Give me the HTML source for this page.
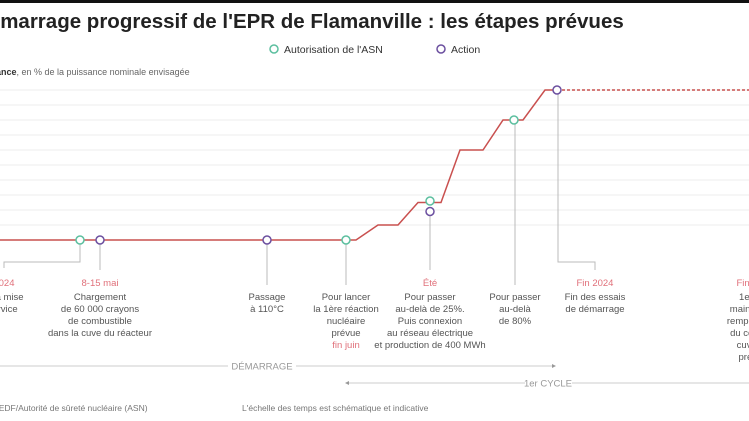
<!DOCTYPE html>
<html><head><meta charset="utf-8"><style>
body{margin:0;background:#fff;}
svg{display:block;font-family:"Liberation Sans",sans-serif;}
.a{font-size:9.5px;fill:#555;text-anchor:middle;}
.d{font-size:9.5px;fill:#e0707a;text-anchor:middle;}
</style></head><body>
<svg width="749" height="421" viewBox="0 0 749 421">
<rect x="0" y="0" width="749" height="3" fill="#111"/>
<text x="-26" y="28" font-size="20.5" font-weight="bold" fill="#222">Démarrage progressif de l'EPR de Flamanville : les étapes prévues</text>
<g>
<circle cx="274" cy="49" r="4" fill="#fff" stroke="#5cbf9f" stroke-width="1.5"/>
<text x="284" y="53" font-size="10.5" fill="#333">Autorisation de l'ASN</text>
<circle cx="441" cy="49" r="4" fill="#fff" stroke="#6b4f9f" stroke-width="1.5"/>
<text x="451" y="53" font-size="10.5" fill="#333">Action</text>
</g>
<text x="-4" y="75" font-size="9" fill="#666"><tspan font-weight="bold" fill="#333">ance</tspan>, en % de la puissance nominale envisagée</text>
<g id="grid"></g>
<g id="conn">
<path d="M80 244V262H4V268" fill="none" stroke="#bbb" stroke-width="1"/>
<path d="M100 244V270" fill="none" stroke="#bbb" stroke-width="1"/>
<path d="M267 244V285" fill="none" stroke="#bbb" stroke-width="1"/>
<path d="M346 244V285" fill="none" stroke="#bbb" stroke-width="1"/>
<path d="M430 215V270" fill="none" stroke="#bbb" stroke-width="1"/>
<path d="M515 123V285" fill="none" stroke="#bbb" stroke-width="1"/>
<path d="M558 93V262H595V270" fill="none" stroke="#bbb" stroke-width="1"/>
</g>
<g id="series"></g>
<g id="marks"></g>
<g>
<text class="d" x="-4" y="286">Fin 2024</text>
<text class="a" x="-6" y="300">Fin de la mise</text><text class="a" x="-4" y="312">en service</text>
<text class="d" x="100" y="286">8-15 mai</text>
<text class="a" x="100" y="300">Chargement</text><text class="a" x="100" y="312">de 60 000 crayons</text><text class="a" x="100" y="324">de combustible</text><text class="a" x="100" y="336">dans la cuve du réacteur</text>
<text class="a" x="267" y="300">Passage</text><text class="a" x="267" y="312">à 110°C</text>
<text class="a" x="346" y="300">Pour lancer</text><text class="a" x="346" y="312">la 1ère réaction</text><text class="a" x="346" y="324">nucléaire</text><text class="a" x="346" y="336">prévue</text><text class="d" x="346" y="348">fin juin</text>
<text class="d" x="430" y="286">Été</text>
<text class="a" x="430" y="300">Pour passer</text><text class="a" x="430" y="312">au-delà de 25%.</text><text class="a" x="430" y="324">Puis connexion</text><text class="a" x="430" y="336">au réseau électrique</text><text class="a" x="430" y="348">et production de 400 MWh</text>
<text class="a" x="515" y="300">Pour passer</text><text class="a" x="515" y="312">au-delà</text><text class="a" x="515" y="324">de 80%</text>
<text class="d" x="595" y="286">Fin 2024</text>
<text class="a" x="595" y="300">Fin des essais</text><text class="a" x="595" y="312">de démarrage</text>
<text class="d" x="755" y="286">Fin 2025</text>
<text class="a" x="757" y="300">1er arrêt</text><text class="a" x="757" y="312">maintenance</text><text class="a" x="757" y="324">remplacement</text><text class="a" x="757" y="336">du couvercle</text><text class="a" x="757" y="348">cuve déjà</text><text class="a" x="757" y="360">prévu en</text>
</g>
<g>
<line x1="0" y1="366" x2="228" y2="366" stroke="#ccc"/><line x1="296" y1="366" x2="553" y2="366" stroke="#ccc"/>
<path d="M556 366l-4 -2v4z" fill="#999"/>
<text x="262" y="369.5" font-size="9.5" fill="#999" text-anchor="middle">DÉMARRAGE</text>
</g>
<g>
<line x1="348" y1="383" x2="525" y2="383" stroke="#ccc"/><line x1="572" y1="383" x2="749" y2="383" stroke="#ccc"/>
<path d="M345 383l4 -2v4z" fill="#999"/>
<text x="548" y="386.5" font-size="9.5" fill="#999" text-anchor="middle">1er CYCLE</text>
</g>
<text x="-6" y="411" font-size="8.5" fill="#777">: EDF/Autorité de sûreté nucléaire (ASN)</text>
<text x="242" y="411" font-size="8.5" fill="#777">L'échelle des temps est schématique et indicative</text>
</svg>
<script>
const pctTicks=[0,10,20,30,40,50,60,70,80,90,100];
const stepX=[0,356,378,398,418,441,460,483,503,523,545,557];
const stepPct=[0,0,10,10,25,25,60,60,80,80,100,100];
const asnX=[80,346,430,514];
const asnPct=[0,0,26,80];
const actionX=[100,267,430,557];
const actionPct=[0,0,19,100];
const dashEndX=749;
const y=p=>240-p*1.5;
const NS="http://www.w3.org/2000/svg";
const grid=document.getElementById('grid');
pctTicks.forEach(t=>{if(t===0)return;const l=document.createElementNS(NS,'line');
l.setAttribute('x1',0);l.setAttribute('x2',749);l.setAttribute('y1',y(t));l.setAttribute('y2',y(t));l.setAttribute('stroke','#ececec');


grid.appendChild(l);});
const s=document.getElementById('series');
const p=document.createElementNS(NS,'path');
p.setAttribute('d',stepX.map((x,i)=>(i?'L':'M')+x+' '+y(stepPct[i])).join(''));
p.setAttribute('fill','none');p.setAttribute('stroke','#c9504f');p.setAttribute('stroke-width','1.5');


s.appendChild(p);
const dsh=document.createElementNS(NS,'line');
dsh.setAttribute('x1',stepX[stepX.length-1]);dsh.setAttribute('x2',dashEndX);dsh.setAttribute('y1',y(100));dsh.setAttribute('y2',y(100));
dsh.setAttribute('stroke','#c9504f');dsh.setAttribute('stroke-width','1.5');dsh.setAttribute('stroke-dasharray','3 2');


s.appendChild(dsh);
const m=document.getElementById('marks');
function mk(xs,ps,col,name){xs.forEach((x,i)=>{const c=document.createElementNS(NS,'circle');
c.setAttribute('cx',x);c.setAttribute('cy',y(ps[i]));c.setAttribute('r',4);c.setAttribute('fill','#fff');c.setAttribute('stroke',col);c.setAttribute('stroke-width','1.5');


m.appendChild(c);});}
mk(actionX,actionPct,'#6b4f9f','action-marker');
mk(asnX,asnPct,'#5cbf9f','asn-marker');
</script>
</body></html>
